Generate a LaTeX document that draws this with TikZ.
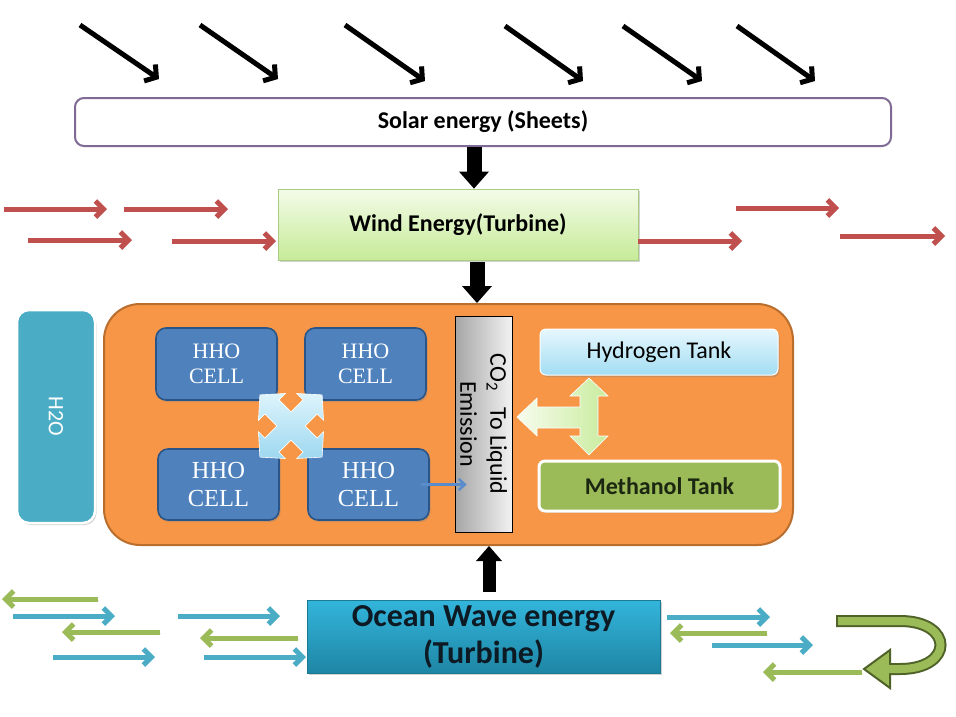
\documentclass[tikz,border=0pt]{standalone}
\usepackage{fontspec}
\setmainfont{Carlito}
\newfontfamily\cellfont{Liberation Serif}
\usetikzlibrary{arrows.meta,shadows}
\definecolor{solarline}{HTML}{7F6A96}
\definecolor{windtop}{HTML}{F4FBE8}
\definecolor{windbot}{HTML}{C6EB98}
\definecolor{windline}{HTML}{A8CC82}
\definecolor{coreorange}{HTML}{F79646}
\definecolor{coreline}{HTML}{B96E2E}
\definecolor{waterblue}{HTML}{4BACC6}
\definecolor{cellblue}{HTML}{4F81BD}
\definecolor{cellline}{HTML}{2C5587}
\definecolor{windred}{HTML}{C0504D}
\definecolor{wavegreen}{HTML}{9BBB59}
\definecolor{wavedark}{HTML}{4F6228}
\definecolor{htop}{HTML}{E6F7FD}
\definecolor{hbot}{HTML}{A3DDF3}
\definecolor{oceantop}{HTML}{33B5DB}
\definecolor{oceanbot}{HTML}{1E86A5}
\definecolor{xtop}{HTML}{DDF4FC}
\definecolor{xbot}{HTML}{9ED8F0}
\definecolor{gleft}{HTML}{F7FCEE}
\definecolor{gright}{HTML}{C9EC9E}
\definecolor{methtext}{HTML}{1B2710}
\definecolor{oceantext}{HTML}{0D1923}
\definecolor{smallblue}{HTML}{5A8BCB}
\begin{document}
\begin{tikzpicture}[x=1pt,y=-1pt,
  shadowed/.style={drop shadow={shadow xshift=1.5pt,shadow yshift=-2pt,opacity=0.35}},
  sunarr/.style={line width=5pt, black, -{Straight Barb[length=8pt,width=20pt]}},
  windarr/.style={line width=5pt, windred, -{Straight Barb[length=8pt,width=16pt]},
    preaction={draw=black, opacity=0.15, transform canvas={xshift=1pt,yshift=-2pt}}},
  wavearr/.style={line width=5pt, -{Straight Barb[length=8pt,width=16pt]},
    preaction={draw=black, opacity=0.1, transform canvas={xshift=1pt,yshift=-1.5pt}}},
  blockarr/.style={line width=15pt, black, -{Triangle[length=17pt,width=30pt,line width=0pt]}},
  solarbox/.style={rectangle, rounded corners=9pt, draw=solarline, line width=2pt, fill=white,
    minimum width=816pt, minimum height=48pt, font=\bfseries\fontsize{24}{28}\selectfont},
  windbox/.style={rectangle, top color=windtop, bottom color=windbot, draw=windline, line width=0.8pt,
    minimum width=360pt, minimum height=71pt, font=\bfseries\fontsize{24}{28}\selectfont, shadowed},
  corebox/.style={rectangle, rounded corners=36pt, fill=coreorange, draw=coreline, line width=2pt,
    minimum width=689pt, minimum height=241pt},
  waterbox/.style={rectangle, rounded corners=12pt, fill=waterblue, draw=white, line width=2.5pt,
    minimum width=78pt, minimum height=213pt, shadowed},
  cell/.style={rectangle, rounded corners=10pt, fill=cellblue, draw=cellline, line width=1.6pt,
    text=white, align=center, minimum width=121pt, minimum height=72pt, shadowed},
  co2box/.style={rectangle, left color=black!35, right color=black!5, draw=black, line width=0.8pt,
    minimum width=57pt, minimum height=216pt},
  htankbox/.style={rectangle, rounded corners=6pt, top color=htop, bottom color=hbot, draw=white, line width=1pt,
    minimum width=238pt, minimum height=46pt, font=\fontsize{24}{28}\selectfont, shadowed},
  mtankbox/.style={rectangle, rounded corners=6pt, fill=wavegreen, draw=white, line width=3pt,
    minimum width=241pt, minimum height=50pt, text=methtext, font=\bfseries\fontsize{24}{28}\selectfont, shadowed},
  oceanbox/.style={rectangle, top color=oceantop, bottom color=oceanbot, draw=oceanbot!90!black, line width=0.5pt,
    minimum width=353pt, minimum height=73pt, align=center, text=oceantext,
    font=\bfseries\fontsize{32}{37}\selectfont, shadowed}
]
\useasboundingbox (0,0) rectangle (956,716);
\fill[white] (0,0) rectangle (956,716);

% sun rays
\foreach \n/\xa/\ya/\xb/\yb in {s1/80/25/159/79, s2/200/25/278/79, s3/345/25/425/81,
  s4/505/26/583/81, s5/623/26/702/81, s6/737/26/815/81}{
  \coordinate (\n-s) at (\xa,\ya); \coordinate (\n-e) at (\xb,\yb);
  \draw[sunarr] (\n-s) -- (\n-e);
}

% main boxes
\node[solarbox] (solar) at (483,122) {Solar energy (Sheets)};
\node[windbox] (wind) at (458,224.5) {Wind Energy(Turbine)};
\node[corebox] (core) at (448.5,424.5) {};
\node[waterbox] (water) at (56,416.5) {};
\node[rotate=-90, text=white, font=\fontsize{22}{26}\selectfont] (waterlabel) at (water.center) {H2O};

% wind arrows
\foreach \n/\xa/\xb/\yy in {w1/4/107/209, w2/124/228/209, w3/28/132/240, w4/172/276/241,
  w5/638/742/241, w6/736/839/208, w7/840/945/236}{
  \coordinate (\n-s) at (\xa,\yy); \coordinate (\n-e) at (\xb,\yy);
  \draw[windarr] (\n-s) -- (\n-e);
}

% HHO cells
\node[cell, font=\cellfont\fontsize{22}{25}\selectfont] (hho1) at (216.5,364) {HHO\\CELL};
\node[cell, font=\cellfont\fontsize{22}{25}\selectfont] (hho2) at (365.5,364) {HHO\\CELL};
\node[cell, minimum height=71pt, font=\cellfont\fontsize{24.5}{28}\selectfont] (hho3) at (218.5,484.5) {HHO\\CELL};
\node[cell, minimum height=71pt, font=\cellfont\fontsize{24.5}{28}\selectfont] (hho4) at (368.5,484.5) {HHO\\CELL};

% four-way arrow between cells
\coordinate (xcenter) at (291,426);
\begin{scope}[shift={(xcenter)}, rotate=45]
\path[top color=xtop, bottom color=xbot, draw=white, line width=0.6pt]
  (44,0) -- (27,19) -- (27,10) -- (10,10) -- (10,27) -- (19,27) -- (0,44) -- (-19,27) -- (-10,27)
  -- (-10,10) -- (-27,10) -- (-27,19) -- (-44,0) -- (-27,-19) -- (-27,-10) -- (-10,-10) -- (-10,-27)
  -- (-19,-27) -- (0,-44) -- (19,-27) -- (10,-27) -- (10,-10) -- (27,-10) -- (27,-19) -- cycle;
\end{scope}

% CO2 column
\node[co2box] (co2) at (483.5,424) {};
\node[rotate=-90, align=center, font=\fontsize{24}{30}\selectfont] (co2label) at (co2.center)
  {CO\textsubscript{2}\ \ \ To Liquid\\Emission};
\draw[smallblue, line width=2.5pt, -{Straight Barb[length=6pt,width=11pt]}, shorten <=-9pt, shorten >=-12pt]
  (hho4.east) -- (co2.west |- hho4.east);

% tanks
\node[htankbox] (htank) at (659,352) {Hydrogen Tank};
\node[mtankbox] (mtank) at (659.5,486) {Methanol Tank};

% three-way arrow
\path[left color=gleft, right color=gright, draw=white, line width=0.6pt]
  (589,378) -- (608,396) -- (598,396) -- (598,436) -- (608,436) -- (589,455) -- (570,436)
  -- (580,436) -- (580,428) -- (537,428) -- (537,436) -- (517,417) -- (537,398) -- (537,407)
  -- (580,407) -- (580,396) -- (570,396) -- cycle;

% ocean
\node[oceanbox] (ocean) at (483.5,636.5) {Ocean Wave energy\\(Turbine)};

% block arrows
\coordinate (xa) at (474,0);
\coordinate (xb) at (477,0);
\coordinate (xc) at (489,0);
\draw[blockarr] (solar.south -| xa) -- (wind.north -| xa);
\draw[blockarr, shorten <=2pt] (wind.south -| xb) -- (core.north -| xb);
\draw[line width=13pt, black, -{Triangle[length=15pt,width=26pt,line width=0pt]}, shorten <=8pt]
  (ocean.north -| xc) -- (core.south -| xc);

% wave arrows
\foreach \n/\xa/\xb/\yy/\cc in {b1/98/2/599/wavegreen, b2/13/115/616/waterblue, b3/160/62/632/wavegreen,
  b4/53/155/657/waterblue, b5/178/280/616/waterblue, b6/298/200/638/wavegreen, b7/204/306/657/waterblue,
  b8/667/770/617/waterblue, b9/767/670/633/wavegreen, b10/712/813/645/waterblue, b11/862/763/672/wavegreen}{
  \coordinate (\n-s) at (\xa,\yy); \coordinate (\n-e) at (\xb,\yy);
  \draw[wavearr, color=\cc] (\n-s) -- (\n-e);
}

% U-turn arrow
\coordinate (ua) at (836,621);
\coordinate (ub) at (900,621);
\coordinate (uc) at (900,669);
\coordinate (ud) at (889,669);
\coordinate (utip) at (864,669);
\draw[wavedark, line width=12pt] (ua) -- (ub) .. controls (954,621) and (954,669) .. (uc) -- (ud);
\draw[wavedark, fill=wavegreen, line width=2pt, line join=miter] (utip) -- (890,650) -- (890,688) -- cycle;
\draw[wavegreen, line width=8pt] ([xshift=2pt]ua) -- (ub) .. controls (954,621) and (954,669) .. (uc) -- (887,669);
\end{tikzpicture}
\end{document}
